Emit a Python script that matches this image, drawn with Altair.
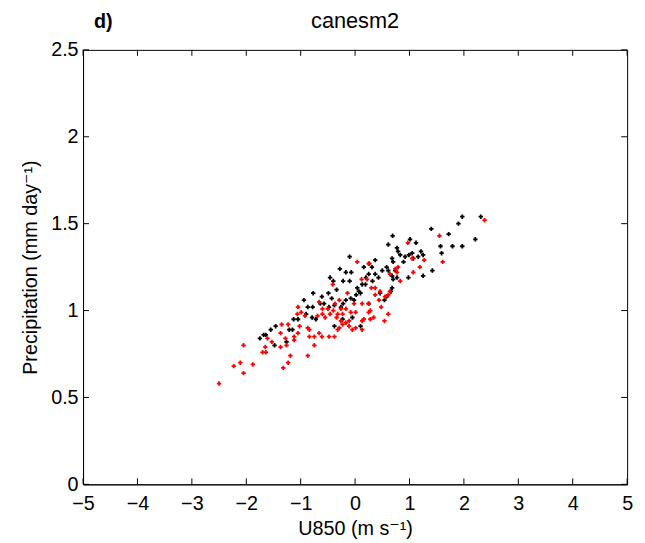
import altair as alt
import pandas as pd

# --- data ---
black_x = [-1.75, -1.68, -1.64, -1.55, -1.46, -1.48, -1.26, -1.21, -1.15, -1.13,
           -1.05, -0.94, -0.90, -0.87, -0.78, -0.79, -0.77, -0.61, -0.57, -0.48,
           -0.38, -0.38, -0.22, -0.17, -0.08, -0.05, -0.34, -0.46, -0.40, -0.22,
           -0.10, -0.28, -0.17, -0.07, -0.10, -0.49, -0.64, -0.43, -0.72, -0.23,
           0.02, 0.10, 0.13, 0.20, 0.16, 0.26, 0.37, 0.43, 0.32, 0.50,
           0.58, 0.68, 2.31, 1.97, 1.90, 1.40, 1.72, 2.21, 1.79, 1.97,
           1.57, 1.59, 1.42, 0.69, 0.61, 1.01, 1.12, 0.77, 0.83, 0.92,
           0.89, 1.21, 1.25, 1.05, 0.70, 0.68, 0.37, 0.31, 0.74, 1.25,
           0.25, 0.19, 0.04, 0.07, 0.70, 0.77, 0.66, 0.58, 0.54, 0.46,
           -0.02, -0.26, 0.25, 0.10, 0.79, 0.99, 1.07, 1.16, 0.61, 0.98,
           0.68]
black_y = [0.84, 0.86, 0.86, 0.89, 0.91, 0.80, 0.82, 0.89, 0.89, 0.95,
           0.95, 1.06, 0.98, 1.02, 1.02, 0.96, 1.10, 1.08, 1.04, 1.02,
           1.03, 0.91, 1.04, 1.06, 1.07, 0.96, 1.12, 1.19, 1.17, 1.17,
           1.17, 1.24, 1.22, 1.22, 1.31, 1.10, 1.04, 1.07, 0.95, 0.95,
           1.09, 1.10, 1.15, 1.19, 1.25, 1.27, 1.21, 1.19, 1.17, 1.23,
           1.25, 1.20, 1.54, 1.54, 1.50, 1.47, 1.44, 1.41, 1.37, 1.37,
           1.37, 1.33, 1.23, 1.43, 1.38, 1.41, 1.39, 1.36, 1.32, 1.31,
           1.28, 1.34, 1.32, 1.33, 1.28, 1.30, 1.29, 1.25, 1.23, 1.20,
           1.21, 1.15, 1.13, 1.11, 1.18, 1.19, 1.11, 1.08, 1.06, 1.10,
           1.06, 1.02, 1.04, 0.91, 1.34, 1.32, 1.30, 1.31, 1.23, 1.19,
           1.13]

red_x = [-2.50, -2.23, -2.11, -2.05, -1.88, -2.05, -1.70, -1.64, -1.65, -1.61,
         -1.53, -1.32, -1.23, -1.19, -1.37, -1.26, -1.28, -1.35, -1.37, -1.12,
         -1.12, -1.05, -1.06, -1.23, -0.87, -0.75, -0.84, -0.75, -0.66, -0.48,
         -0.38, -0.87, -0.92, -0.69, -0.60, -0.55, -0.40, -0.29, -0.23, -0.05,
         -0.26, -0.08, -0.02, -0.34, -0.29, -1.05, 0.04, -0.41, -0.66, -0.60,
         -0.50, -0.46, -0.99, -1.02, -0.84, -0.61, -0.26, -0.17, -0.11, 0.13,
         0.16, 0.28, 0.34, 0.48, 0.54, 0.61, 0.37, 0.46, 0.55, 0.64,
         0.25, 0.13, -0.14, 0.01, -0.32, -0.37, -0.17, 2.38, 1.55, 0.97,
         1.05, 1.27, 1.19, 1.07, 0.79, 0.74, 0.64, 0.83, 0.61, 1.61,
         0.25, 0.22, 0.12, 0.37, 0.30, 0.44, 0.25, 0.28, 0.13, -0.23,
         -0.11, -0.32, 0.01, 0.77]
red_y = [0.58, 0.68, 0.70, 0.64, 0.69, 0.80, 0.76, 0.76, 0.79, 0.84,
         0.82, 0.67, 0.70, 0.74, 0.79, 0.80, 0.84, 0.92, 0.87, 0.85,
         0.83, 0.87, 0.98, 0.92, 0.74, 0.80, 0.85, 0.85, 0.87, 0.85,
         0.85, 0.90, 0.97, 0.97, 0.98, 0.96, 1.00, 0.90, 0.92, 0.89,
         1.01, 0.99, 1.04, 0.96, 1.06, 1.02, 1.28, 1.15, 1.05, 1.01,
         1.01, 0.98, 0.99, 0.91, 0.89, 0.85, 0.94, 0.93, 0.94, 0.89,
         0.95, 1.00, 0.96, 1.02, 0.94, 0.98, 1.09, 1.11, 1.08, 1.11,
         1.04, 1.04, 1.10, 0.99, 0.98, 1.04, 1.01, 1.52, 1.43, 1.39,
         1.30, 1.29, 1.25, 1.22, 1.25, 1.24, 1.21, 1.17, 1.09, 1.28,
         1.27, 1.18, 1.18, 1.13, 1.13, 1.06, 0.99, 0.95, 0.94, 0.98,
         0.91, 0.89, 0.90, 1.22]

x_ticks = [-5, -4, -3, -2, -1, 0, 1, 2, 3, 4, 5]
y_ticks = [0, 0.5, 1, 1.5, 2, 2.5]

FONT = "Liberation Sans, Arial, Helvetica, DejaVu Sans"
W, H = 551, 440
TL = 6  # tick length

pts = pd.DataFrame({
    "x": black_x + red_x,
    "y": black_y + red_y,
    "group": ["black"] * len(black_x) + ["red"] * len(red_x),
})
xt = pd.DataFrame({"x": x_ticks})
yt = pd.DataFrame({"y": y_ticks})

xscale = alt.Scale(domain=[-5, 5], nice=False, zero=False)
yscale = alt.Scale(domain=[0, 2.5], nice=False, zero=False)

xaxis = alt.Axis(values=x_ticks, tickSize=0, labelPadding=9, labelFlush=False,
                 labelOverlap=False, grid=False, title="U850 (m s\u207b\u00b9)",
                 titlePadding=6)
yaxis = alt.Axis(values=y_ticks, format="~g", tickSize=0, labelPadding=5,
                 labelFlush=False, labelOverlap=False, grid=False,
                 title="Precipitation (mm day\u207b\u00b9)", titlePadding=10)

X = alt.X("x:Q", scale=xscale, axis=xaxis)
Y = alt.Y("y:Q", scale=yscale, axis=yaxis)

scatter = alt.Chart(pts).mark_point(shape="cross", filled=True, size=20, opacity=1).encode(
    x=X, y=Y,
    color=alt.Color("group:N", scale=alt.Scale(domain=["black", "red"],
                                               range=["#000000", "#ff0000"]), legend=None),
)

rule_style = dict(color="black", strokeWidth=1)
xt_bottom = alt.Chart(xt).mark_rule(**rule_style).encode(
    x=X, y=alt.value(H), y2=alt.value(H - TL))
xt_top = alt.Chart(xt).mark_rule(**rule_style).encode(
    x=X, y=alt.value(0), y2=alt.value(TL))
yt_left = alt.Chart(yt).mark_rule(**rule_style).encode(
    y=Y, x=alt.value(0), x2=alt.value(TL))
yt_right = alt.Chart(yt).mark_rule(**rule_style).encode(
    y=Y, x=alt.value(W), x2=alt.value(W - TL))

panel = alt.Chart(pd.DataFrame({"t": ["d)"]})).mark_text(
    font=FONT, fontSize=20, fontWeight="bold", align="left", baseline="alphabetic",
    color="black").encode(text="t:N", x=alt.value(11), y=alt.value(-22))

title = alt.Chart(pd.DataFrame({"t": ["canesm2"]})).mark_text(
    font=FONT, fontSize=22, fontWeight="normal", align="center", baseline="alphabetic",
    color="black").encode(text="t:N", x=alt.value(W / 2), y=alt.value(-22))

chart = alt.layer(scatter, xt_bottom, xt_top, yt_left, yt_right, panel, title).properties(
    width=W, height=H,
    autosize=alt.AutoSizeParams(type="none"),
    padding={"left": 76, "top": 39, "right": 10, "bottom": 56},
).configure_view(
    stroke="black", strokeWidth=1
).configure_axis(
    labelFont=FONT, titleFont=FONT, labelFontSize=20, titleFontSize=20,
    labelColor="black", titleColor="black", titleFontWeight="normal",
    domainColor="black", domainWidth=1,
)

chart.save("out.html", embed_options={"renderer": "svg", "actions": False})
